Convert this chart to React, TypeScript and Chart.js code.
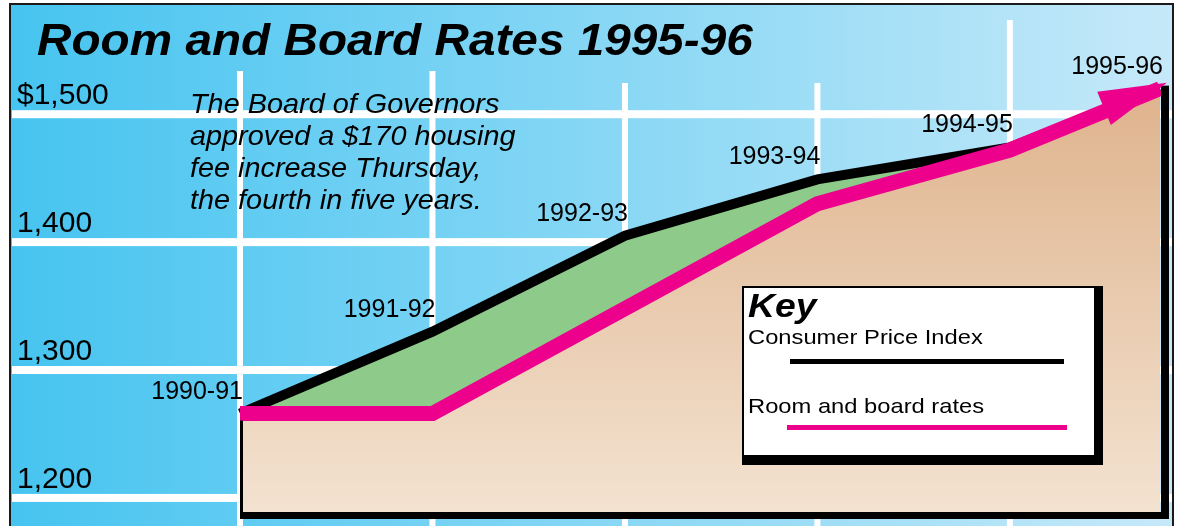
import React, { useEffect, useRef } from 'react';
import { Chart, registerables } from 'chart.js';

Chart.register(...registerables);

// ---- data ----
const title = 'Room and Board Rates 1995-96';
const noteLines = [
  'The Board of Governors',
  'approved a $170 housing',
  'fee increase Thursday,',
  'the fourth in five years.',
];
const categories = ['1990-91', '1991-92', '1992-93', '1993-94', '1994-95', '1995-96'];
// position of each school year along the time axis (last year drawn short of a full step)
const categoryPositions = [0, 1, 2, 3, 4, 4.78];
const cpiValues = [1266, 1330, 1405, 1449, 1474, 1520];
const roomBoardValues = [1266, 1266, 1348, 1430, 1472, 1520];
const yTickValues = [1200, 1300, 1400, 1500];
const yTickLabels = ['1,200', '1,300', '1,400', '$1,500'];
const legendTitle = 'Key';
const seriesNames = ['Consumer Price Index', 'Room and board rates'];

// ---- styles ----
const FONT = '"Liberation Sans", Arial, Helvetica, sans-serif';
const PINK = '#ec008c';
const GREEN = '#8ecb8a';

function drawText(
  ctx: CanvasRenderingContext2D,
  s: string,
  x: number,
  y: number,
  font: string,
  sx = 1,
  align: CanvasTextAlign = 'left'
) {
  ctx.save();
  ctx.font = font;
  ctx.fillStyle = '#000';
  ctx.textAlign = align;
  ctx.textBaseline = 'alphabetic';
  ctx.translate(x, y);
  ctx.scale(sx, 1);
  ctx.fillText(s, 0, 0);
  ctx.restore();
}

const artPlugin = {
  id: 'art',
  beforeDraw(chart: any) {
    const { ctx, width, height } = chart;
    const x = chart.scales.x;
    const y = chart.scales.y;
    ctx.save();
    ctx.fillStyle = '#fff';
    ctx.fillRect(0, 0, width, height);
    const L = 10, T = 4, R = 1173;
    const g = ctx.createLinearGradient(L, 0, R, 0);
    g.addColorStop(0, 'rgb(70,196,240)');
    g.addColorStop(1, 'rgb(198,233,249)');
    ctx.fillStyle = g;
    ctx.fillRect(L, T, R - L, height - T);
    // horizontal grid
    ctx.fillStyle = '#fff';
    yTickValues.forEach((v) => {
      const py = y.getPixelForValue(v);
      ctx.fillRect(L + 2, py - 4, R - L - 3, 8);
    });
    // vertical grid (start below the title where it overlaps)
    categoryPositions.slice(0, -1).forEach((p) => {
      const px = x.getPixelForValue(p);
      const top = px < 500 ? 71 : px < 900 ? 83 : 20;
      ctx.fillRect(px - 3, top, 6, height - top);
    });
    // frame
    ctx.fillStyle = '#1a1a1a';
    ctx.fillRect(L - 1, T - 1, 2, height);
    ctx.fillRect(L - 1, T - 1, R - L + 2, 2);
    ctx.fillRect(R - 1, T - 1, 2, height);
    // texts
    drawText(ctx, title, 37, 55, `italic bold 45px ${FONT}`, 1.06);
    yTickValues.forEach((v, i) =>
      drawText(ctx, yTickLabels[i], 17, y.getPixelForValue(v) - 10, `30px ${FONT}`)
    );
    noteLines.forEach((s, i) => drawText(ctx, s, 190, 113 + i * 32, `italic 28px ${FONT}`, 1.03));
    ctx.restore();
  },
  afterDatasetsDraw(chart: any) {
    const { ctx } = chart;
    const a = chart.chartArea;
    const x = chart.scales.x;
    const y = chart.scales.y;
    const n = categoryPositions.length;
    ctx.save();
    // box edges (shadow)
    const firstY = y.getPixelForValue(roomBoardValues[0]);
    const lastY = y.getPixelForValue(roomBoardValues[n - 1]);
    ctx.fillStyle = '#000';
    ctx.fillRect(a.left, firstY + 7, 3, a.bottom + 7 - firstY - 7);
    ctx.fillRect(a.left, a.bottom, a.right - a.left + 9, 7);
    ctx.fillRect(a.right + 1, lastY - 3, 8, a.bottom + 7 - lastY + 3);
    // arrow head
    const x1 = x.getPixelForValue(categoryPositions[n - 2]);
    const y1 = y.getPixelForValue(roomBoardValues[n - 2]);
    const x2 = x.getPixelForValue(categoryPositions[n - 1]);
    const y2 = lastY;
    const len = Math.hypot(x2 - x1, y2 - y1);
    const ux = (x2 - x1) / len, uy = (y2 - y1) / len;
    const tipX = x2 + 7, tipY = y2 - 6;
    const bx = tipX - ux * 68, by = tipY - uy * 68;
    const px = -uy * 18, py = ux * 18;
    ctx.fillStyle = PINK;
    ctx.beginPath();
    ctx.moveTo(tipX, tipY);
    ctx.lineTo(bx + px, by + py);
    ctx.lineTo(bx - px, by - py);
    ctx.closePath();
    ctx.fill();
    // category labels
    categories.forEach((c, i) => {
      const cx = x.getPixelForValue(categoryPositions[i]);
      const cy = Math.min(y.getPixelForValue(cpiValues[i]), y.getPixelForValue(roomBoardValues[i]));
      drawText(ctx, c, cx + 3, cy - 15, `25px ${FONT}`, 1, 'right');
    });
    // legend box
    const bxL = 742, byT = 286;
    ctx.fillStyle = '#000';
    ctx.fillRect(bxL, byT, 361, 179);
    ctx.fillStyle = '#fff';
    ctx.fillRect(bxL + 2, byT + 2, 350, 167);
    drawText(ctx, legendTitle, bxL + 6, byT + 31, `italic bold 33px ${FONT}`, 1.13);
    drawText(ctx, seriesNames[0], bxL + 6, byT + 58, `21px ${FONT}`, 1.13);
    ctx.fillStyle = '#000';
    ctx.fillRect(bxL + 48, byT + 73, 274, 5);
    drawText(ctx, seriesNames[1], bxL + 6, byT + 127, `21px ${FONT}`, 1.13);
    ctx.fillStyle = PINK;
    ctx.fillRect(bxL + 45, byT + 139, 280, 5);
    ctx.restore();
  },
};

export default function App() {
  const ref = useRef<HTMLCanvasElement>(null);
  useEffect(() => {
    const canvas = ref.current!;
    const chart = new Chart(canvas, {
      type: 'line',
      data: {
        datasets: [
          {
            label: seriesNames[1],
            data: categoryPositions.map((p, i) => ({ x: p, y: roomBoardValues[i] })),
            borderColor: PINK,
            borderWidth: 15,
            borderJoinStyle: 'miter',
            borderCapStyle: 'butt',
            pointRadius: 0,
            tension: 0,
            fill: 'start',
            backgroundColor: (c: any) => {
              const ch = c.chart;
              const a = ch.chartArea;
              if (!a) return '#e8c4a4';
              const g = ch.ctx.createLinearGradient(0, a.top, 0, a.bottom);
              g.addColorStop(0, 'rgb(222,177,138)');
              g.addColorStop(1, 'rgb(243,226,208)');
              return g;
            },
            clip: false,
          },
          {
            label: seriesNames[0],
            data: categoryPositions.map((p, i) => ({ x: p, y: cpiValues[i] })),
            borderColor: '#000',
            borderWidth: 10,
            borderJoinStyle: 'miter',
            borderCapStyle: 'butt',
            pointRadius: 0,
            tension: 0,
            fill: '-1',
            backgroundColor: GREEN,
            clip: false,
          },
        ],
      } as any,
      options: {
        responsive: false,
        animation: false,
        devicePixelRatio: 1,
        events: [],
        layout: { padding: { left: 240, right: 21, top: 72, bottom: 14 } },
        scales: {
          x: { type: 'linear', min: 0, max: categoryPositions[categoryPositions.length - 1], display: false },
          y: { type: 'linear', min: 1189, max: 1533, display: false },
        },
        plugins: {
          legend: { display: false },
          tooltip: { enabled: false },
          title: { display: false },
        },
      } as any,
      plugins: [artPlugin],
    });
    return () => chart.destroy();
  }, []);
  return (
    <div style={{ position: 'fixed', left: 0, top: 0, width: 1181, height: 526 }}>
      <canvas ref={ref} width={1181} height={526} style={{ display: 'block', width: 1181, height: 526 }} />
    </div>
  );
}
